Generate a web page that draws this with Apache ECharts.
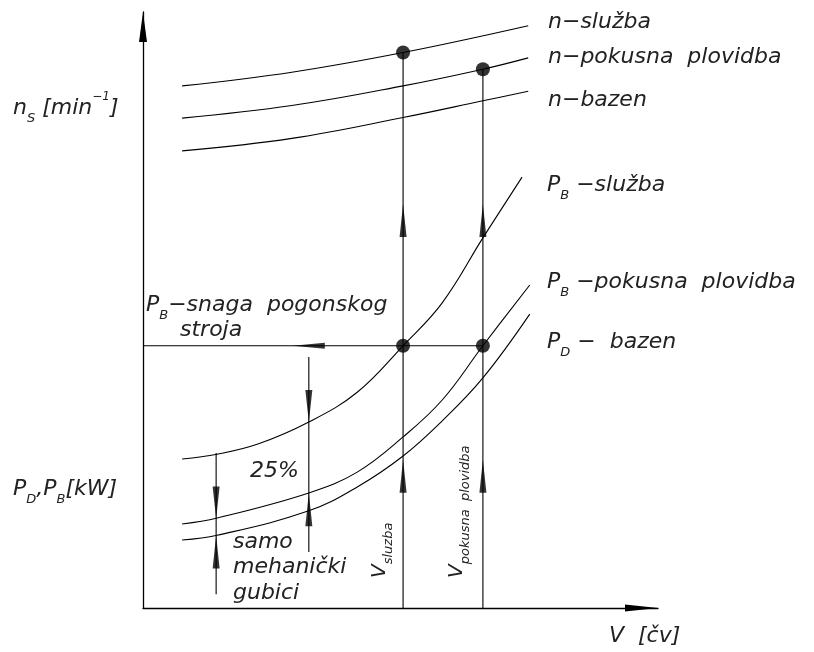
<!DOCTYPE html>
<html>
<head>
<meta charset="utf-8">
<script src="https://cdn.jsdelivr.net/npm/echarts@6/dist/echarts.min.js"></script>
<style>
  html, body { margin: 0; padding: 0; background: #fff; }
  #chart { width: 814px; height: 652px; }
</style>
</head>
<body>
<div id="chart"></div>
<script>
// os x: brzina V, os y: n_S odnosno P_D, P_B (relativne jedinice 0-100)
const nSluzbaX = [7.6, 28.9, 50.5, 74.8];
const nSluzbaY = [87.6, 89.9, 93.2, 97.7];
const nPokusnaX = [7.6, 28.9, 50.5, 66.0, 74.8];
const nPokusnaY = [82.2, 84.3, 87.6, 90.4, 92.3];
const nBazenX = [7.6, 28.9, 50.5, 66.0, 74.8];
const nBazenY = [76.7, 78.8, 82.3, 85.1, 86.7];

const pbSluzbaX = [7.6, 14.4, 22.3, 32.2, 41.6, 50.5, 58.1, 66.0, 73.6];
const pbSluzbaY = [25.0, 25.8, 27.5, 31.2, 36.2, 44.0, 51.2, 62.1, 72.3];
const pbPokusnaX = [7.6, 14.4, 32.2, 41.6, 50.5, 58.1, 66.0, 75.1];
const pbPokusnaY = [14.1, 15.1, 19.3, 22.8, 28.7, 34.9, 44.0, 54.2];
const pdBazenX = [7.6, 14.4, 32.2, 41.6, 50.5, 58.1, 66.0, 75.1];
const pdBazenY = [11.4, 12.2, 16.3, 20.3, 25.5, 31.4, 38.6, 49.3];

// radne tocke
const vSluzba = 50.5;
const vPokusna = 66.0;
const pRadna = 44.0;
const nRadnaSluzba = 93.2;
const nRadnaPokusna = 90.4;

// kotne linije (25% i mehanicki gubici): [x, yGore, yDolje]
const kota25 = [32.2, 42.1, 9.4];
const kotaMeh = [14.2, 26.0, 2.3];

// vrhovi strelica (sredista)
const strelicaGore = [[50.5, 65.0], [66.0, 65.0], [50.5, 22.1], [66.0, 22.1], [32.2, 16.5], [14.2, 9.4]];
const strelicaDolje = [[32.2, 33.9], [14.2, 17.7]];
const strelicaLijevo = [[32.2, 44.0]];

const zip = (xs, ys) => xs.map((x, i) => [x, ys[i]]);

const FONT = "'DejaVu Sans ExtraLight', 'DejaVu Sans'";
const INK = "#222";

function curve(name, xs, ys) {
  return {
    type: "line", name: name, data: zip(xs, ys),
    smooth: 0.4, symbol: "none",
    lineStyle: { color: "#000", width: 1.1 }, z: 2,
  };
}
function seg(pts) {
  return {
    type: "line", data: pts, symbol: "none",
    lineStyle: { color: "#000", width: 1.1 }, z: 2,
  };
}
function arrows(pts, rot, size) {
  return {
    type: "scatter", data: pts, symbol: "triangle",
    symbolSize: size, symbolRotate: rot,
    itemStyle: { color: "#000" }, z: 4,
  };
}
function tok(size, lh, va) {
  const t = { fontFamily: FONT, fontStyle: "italic", fontSize: size, fill: INK, lineHeight: lh };
  if (va) t.verticalAlign = va;
  return t;
}
function label(x, y, text, extra) {
  return Object.assign({
    type: "text", x: x, y: y,
    style: {
      text: text, fontFamily: FONT, fontStyle: "italic", fontSize: 22,
      fill: INK, align: "left", verticalAlign: "middle",
      rich: {
        m: tok(22, 34),
        s: tok(13, 13, "bottom"),
        p: tok(12, 12, "top"),
        v: tok(20, 30),
        vs: tok(13, 13, "bottom"),
      },
    },
  }, extra || {});
}

const myChart = echarts.init(document.getElementById("chart"));

const option = {
  animation: false,
  backgroundColor: "#fff",
  grid: { left: 143, top: 12, width: 515, height: 596 },
  xAxis: {
    type: "value", min: 0, max: 100,
    axisLine: {
      show: true, symbol: ["none", "triangle"], symbolSize: [7, 33], symbolOffset: [0, -16.5],
      lineStyle: { color: "#000", width: 1.3 },
    },
    axisTick: { show: false }, axisLabel: { show: false }, splitLine: { show: false },
  },
  yAxis: {
    type: "value", min: 0, max: 100,
    axisLine: {
      show: true, symbol: ["none", "triangle"], symbolSize: [8, 30], symbolOffset: [0, -15],
      lineStyle: { color: "#000", width: 1.3 },
    },
    axisTick: { show: false }, axisLabel: { show: false }, splitLine: { show: false },
  },
  series: [
    curve("n-služba", nSluzbaX, nSluzbaY),
    curve("n-pokusna plovidba", nPokusnaX, nPokusnaY),
    curve("n-bazen", nBazenX, nBazenY),
    curve("P_B-služba", pbSluzbaX, pbSluzbaY),
    curve("P_B-pokusna plovidba", pbPokusnaX, pbPokusnaY),
    curve("P_D-bazen", pdBazenX, pdBazenY),
    seg([[vSluzba, 0], [vSluzba, nRadnaSluzba]]),
    seg([[vPokusna, 0], [vPokusna, nRadnaPokusna]]),
    seg([[0, pRadna], [vPokusna, pRadna]]),
    seg([[kota25[0], kota25[1]], [kota25[0], kota25[2]]]),
    seg([[kotaMeh[0], kotaMeh[1]], [kotaMeh[0], kotaMeh[2]]]),
    arrows(strelicaGore, 0, [7, 33]),
    arrows(strelicaDolje, 180, [7, 32]),
    arrows(strelicaLijevo, 90, [6, 32]),
    {
      type: "scatter", symbolSize: 14, itemStyle: { color: "#000" }, z: 5,
      data: [[vSluzba, pRadna], [vPokusna, pRadna], [vSluzba, nRadnaSluzba], [vPokusna, nRadnaPokusna]],
    },
  ],
  graphic: [
    label(13, 108, "{m|n}{s|S}{m| [min}{p|−1}{m|]}"),
    label(548, 22, "n−služba"),
    label(548, 57, "n−pokusna  plovidba"),
    label(548, 100, "n−bazen"),
    label(547, 185, "{m|P}{s|B}{m| −služba}"),
    label(547, 282, "{m|P}{s|B}{m| −pokusna  plovidba}"),
    label(547, 342, "{m|P}{s|D}{m| −  bazen}"),
    label(146, 305, "{m|P}{s|B}{m|−snaga  pogonskog}"),
    label(180, 330, "stroja"),
    label(250, 471, "25%"),
    label(233, 542, "samo"),
    label(233, 567, "mehanički"),
    label(233, 593, "gubici"),
    label(13, 489, "{m|P}{s|D}{m|,P}{s|B}{m|[kW]}"),
    label(380, 578, "{v|V}{vs|sluzba}", { rotation: Math.PI / 2 }),
    label(457, 578, "{v|V}{vs|pokusna  plovidba}", { rotation: Math.PI / 2 }),
    label(609, 636, "V  [čv]"),
  ],
};

myChart.setOption(option);
window.addEventListener("resize", () => {
  myChart.resize();
});
</script>
</body>
</html>
